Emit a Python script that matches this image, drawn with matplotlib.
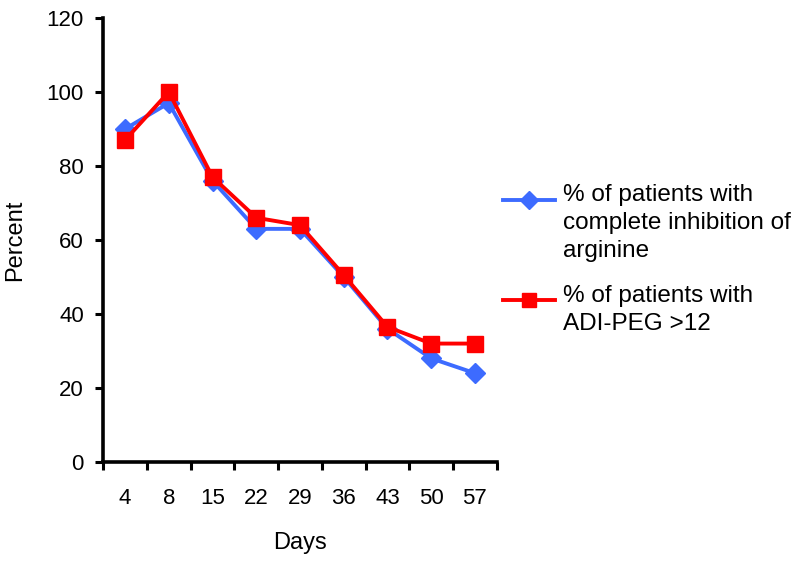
import matplotlib
matplotlib.use("Agg")
import matplotlib.pyplot as plt
from matplotlib.lines import Line2D

plt.rcParams['font.family'] = ['Liberation Sans', 'DejaVu Sans']

days = ["4", "8", "15", "22", "29", "36", "43", "50", "57"]
inhibition = [90, 97, 76, 63, 63, 50, 36, 28, 24]
adi_peg = [87, 100, 77, 66, 64, 50.5, 36.5, 32, 32]
label_blue = "% of patients with\ncomplete inhibition of\narginine"
label_red = "% of patients with\nADI-PEG >12"

blue = "#3D6BFF"
red = "#FF0000"
FS = 16
LFS = 17.5

fig = plt.figure(figsize=(8, 5.61), dpi=100)
ax = fig.add_axes([0.129, 0.1765, 0.492, 0.7915])

x = list(range(len(days)))
ax.plot(x, inhibition, color=blue, lw=2.8, marker='D', ms=10, mec=blue, mfc=blue, zorder=3)
ax.plot(x, adi_peg, color=red, lw=2.8, marker='s', ms=11.5, mec=red, mfc=red, zorder=4)

ax.set_xlim(-0.5, len(days) - 0.5)
ax.set_ylim(0, 120)
ax.set_yticks(range(0, 121, 20))
ax.set_xticks(x)
ax.set_xticklabels(days)
ax.set_xticks([i - 0.5 for i in range(len(days) + 1)], minor=True)
ax.tick_params(axis='x', which='major', length=0, pad=19, labelsize=FS)
ax.tick_params(axis='x', which='minor', length=6, width=2.2, direction='out')
ax.tick_params(axis='y', length=6, width=2.2, direction='out', labelsize=FS, pad=8)

for s in ['top', 'right']:
    ax.spines[s].set_visible(False)
for s in ['left', 'bottom']:
    ax.spines[s].set_linewidth(2.6)

ax.set_ylabel("Percent", fontsize=17, labelpad=15)
ax.set_xlabel("Days", fontsize=17, labelpad=16)

# legend drawn manually so handle aligns with first text line
def legend_entry(y, color, marker, ms, text):
    fig.add_artist(Line2D([503/800, 555/800], [y, y], color=color, lw=2.8,
                          transform=fig.transFigure))
    fig.add_artist(Line2D([529/800], [y], color=color, marker=marker, ms=ms,
                          mec=color, mfc=color, transform=fig.transFigure))
    t = fig.text(563/800, y, text, fontsize=LFS, va='top', ha='left',
                 linespacing=1.36, transform=fig.transFigure)
    return t

t1 = legend_entry(1 - 200/561, blue, 'D', 9, label_blue)
t1.set_y(1 - 184/561)
t2 = legend_entry(1 - 300/561, red, 's', 10, label_red)
t2.set_y(1 - 285/561)

fig.savefig("out.png", dpi=100)
